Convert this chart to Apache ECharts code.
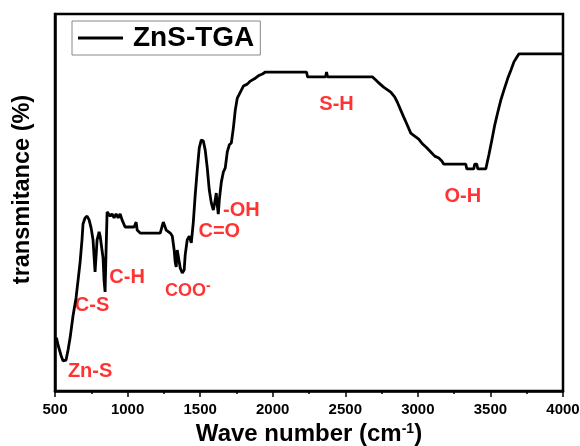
<!DOCTYPE html>
<html>
<head>
<meta charset="utf-8">
<script src="https://cdn.jsdelivr.net/npm/echarts@6/dist/echarts.min.js"></script>
<style>
  html, body { margin: 0; padding: 0; background: #fff; }
  #chart { width: 580px; height: 446px; }
</style>
</head>
<body>
<div id="chart"></div>
<script>
// FTIR spectrum of ZnS-TGA: wavenumber (cm-1) and relative transmittance
const wavenumber = [
  500, 510, 521, 541, 555, 576, 590, 604, 624, 645, 659, 673, 686, 693, 707, 721, 735, 749,
  762, 769, 776, 783, 790, 804, 811, 824, 831, 838, 845, 852, 859, 866, 880, 893, 907, 921,
  935, 949, 962, 983, 1045, 1059, 1066, 1087, 1225, 1246, 1266, 1294, 1308, 1321, 1328, 1335,
  1342, 1349, 1363, 1377, 1390, 1397, 1411, 1425, 1439, 1453, 1466, 1480, 1494, 1508, 1522,
  1535, 1549, 1563, 1577, 1591, 1604, 1611, 1618, 1625, 1632, 1646, 1660, 1673, 1687, 1701,
  1715, 1729, 1742, 1756, 1777, 1798, 1825, 1846, 1874, 1901, 1929, 1950, 2233, 2240, 2364,
  2371, 2378, 2688, 2723, 2764, 2813, 2840, 2861, 2882, 2902, 2930, 2951, 2978, 3006, 3033,
  3061, 3089, 3116, 3144, 3165, 3178, 3330, 3337, 3385, 3392, 3406, 3413, 3468, 3489, 3510,
  3530, 3551, 3572, 3593, 3620, 3641, 3662, 3675, 3696, 4000
];
const transmittance = [
  13.0, 14.1, 12.2, 9.5, 8.0, 8.2, 10.9, 14.1, 19.9, 24.7, 29.4, 34.2, 40.1, 44.3, 45.9, 46.4, 45.4, 43.2,
  40.1, 35.8, 31.6, 35.8, 40.1, 42.2, 41.1, 40.6, 35.3, 29.4, 26.3, 37.4, 47.5, 48.0, 46.4, 47.0, 45.9, 47.0,
  45.9, 47.0, 45.4, 43.5, 43.5, 44.8, 42.7, 41.9, 41.9, 44.8, 42.7, 41.9, 41.1, 37.4, 34.2, 32.9,
  37.4, 37.9, 32.6, 31.3, 32.1, 36.1, 40.1, 41.1, 39.3, 44.8, 52.0, 58.6, 64.5, 66.6, 66.3,
  63.9, 59.2, 53.3, 49.9, 48.0, 50.7, 52.5, 49.3, 46.9, 50.7, 55.4, 58.1, 59.2, 63.4, 65.3,
  65.8, 69.8, 74.5, 77.7, 79.3, 80.9, 81.4, 82.2, 82.8, 83.6, 84.1, 84.6, 84.6, 83.3, 83.3,
  84.6, 83.3, 83.3, 82.0, 80.6, 79.3, 78.0, 76.4, 74.5, 72.7, 70.3, 68.4, 67.6, 66.8, 65.5,
  64.5, 63.4, 62.3, 61.8, 61.0, 60.2, 60.2, 58.9, 58.9, 60.2, 60.2, 58.9, 58.9, 62.6, 66.6,
  70.6, 74.0, 77.2, 79.8, 83.0, 85.1, 87.3, 88.1, 89.4, 89.4
];

// Band assignments and where their labels sit (wavenumber, transmittance)
const bandNames = ['Zn-S', 'C-S', 'C-H', 'COO-', 'C=O', '-OH', 'S-H', 'O-H'];
const bandWave  = [742, 755, 997, 1415, 1632, 1784, 2440, 3310];
const bandLevel = [5.3, 22.8, 30.2, 26.5, 42.4, 48.0, 76.1, 51.5];

const xTicks = [500, 1000, 1500, 2000, 2500, 3000, 3500, 4000];
const seriesName = 'ZnS-TGA';

const FONT = '"Liberation Sans", Arial, sans-serif';

const chart = echarts.init(document.getElementById('chart'), null, { renderer: 'canvas' });

const spectrum = wavenumber.map((w, i) => [w, transmittance[i]]);
const bands = bandNames.map((n, i) => ({ name: n, value: [bandWave[i], bandLevel[i]] }));

chart.setOption({
  animation: false,
  backgroundColor: '#fff',
  grid: {
    left: 55, right: 17, top: 14, bottom: 55,
    containLabel: false,
    outerBoundsMode: 'none',
    show: true, borderColor: '#000', borderWidth: 2.5, backgroundColor: 'transparent'
  },
  legend: {
    data: [seriesName],
    left: 72, top: 21,
    padding: [3, 6, 3, 6],
    borderColor: '#888', borderWidth: 1,
    icon: 'rect', itemWidth: 45, itemHeight: 3,
    textStyle: { fontFamily: FONT, fontSize: 28, fontWeight: 'bold', color: '#000', padding: [0, 0, 0, 5] }
  },
  xAxis: {
    type: 'value',
    min: xTicks[0], max: xTicks[xTicks.length - 1],
    interval: xTicks[1] - xTicks[0],
    name: '{a|Wave number (cm}{s|-1}{a|)}',
    nameLocation: 'middle', nameGap: 31,
    nameTextStyle: {
      rich: {
        a: { fontFamily: FONT, fontSize: 24, fontWeight: 'bold', color: '#000' },
        s: { fontFamily: FONT, fontSize: 14, fontWeight: 'bold', color: '#000', padding: [0, 0, 10, 0] }
      }
    },
    axisLine: { show: true, onZero: false, lineStyle: { color: '#000', width: 2.5 } },
    axisTick: { show: true, inside: false, length: 6, lineStyle: { color: '#000', width: 1.5 } },
    minorTick: { show: true, splitNumber: 2, length: 3, lineStyle: { color: '#000', width: 1.5 } },
    splitLine: { show: false },
    axisLabel: {
      fontFamily: FONT, fontSize: 15, fontWeight: 'bold', color: '#000', margin: 11,
      formatter: v => String(v)
    }
  },
  yAxis: {
    type: 'value', min: 0, max: 100,
    name: 'transmitance (%)',
    nameLocation: 'middle', nameGap: 20, nameRotate: 90,
    nameTextStyle: {
      fontFamily: FONT, fontSize: 23.5, fontWeight: 'bold', color: '#000',
      padding: [0, 0, 0, 26]
    },
    axisLine: { show: true, onZero: false, lineStyle: { color: '#000', width: 2.5 } },
    axisTick: { show: false },
    axisLabel: { show: false },
    splitLine: { show: false }
  },
  series: [
    {
      name: seriesName,
      type: 'line',
      data: spectrum,
      showSymbol: false,
      symbol: 'none',
      lineStyle: { color: '#000', width: 2.8 },
      itemStyle: { color: '#000' }
    },
    {
      name: 'bands',
      type: 'scatter',
      data: bands,
      symbolSize: 0,
      silent: true,
      label: {
        show: true,
        position: 'inside',
        formatter: p => p.name === 'COO-' ? '{m|COO}{s|-}' : '{t|' + p.name + '}',
        rich: {
          t: { fontFamily: FONT, fontSize: 20, fontWeight: 'bold', color: '#ff0000' },
          m: { fontFamily: FONT, fontSize: 18, fontWeight: 'bold', color: '#ff0000' },
          s: { fontFamily: FONT, fontSize: 14, fontWeight: 'bold', color: '#ff0000', padding: [0, 0, 10, 0] }
        }
      }
    }
  ]
});
</script>
</body>
</html>
